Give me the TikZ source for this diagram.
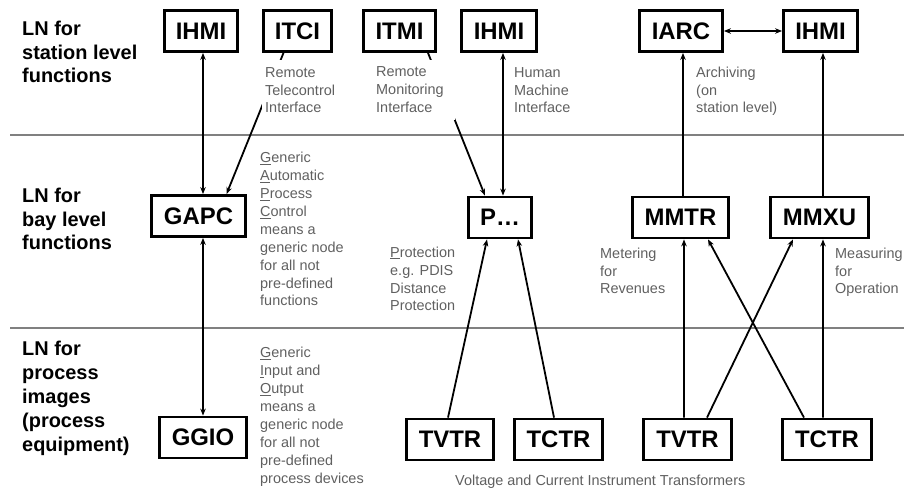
\documentclass[tikz,border=0pt]{standalone}
\usepackage{fontspec}
\setmainfont{Liberation Sans}
\usetikzlibrary{arrows.meta}
\definecolor{labelgray}{RGB}{96,96,96}
\definecolor{rulegray}{RGB}{128,128,128}
\tikzset{
  lnbox/.style={draw, line width=2.8bp, inner sep=0pt, minimum height=41bp,
    font=\fontsize{24}{24}\selectfont\bfseries},
  % multi-line texts are placed by the baseline of their last line
  heading/.style={anchor=base west, align=left, inner sep=0pt,
    font=\fontsize{20}{24}\selectfont\bfseries},
  note/.style={anchor=base west, align=left, inner sep=0pt, text=labelgray,
    font=\fontsize{14.5}{18}\selectfont},
  masked/.style={fill=white, inner xsep=3bp, inner ysep=7bp},
  tip/.tip={Stealth[length=7bp,width=5.5bp]},
  link/.style={line width=1.8bp, -tip},
  duplex/.style={line width=1.8bp, tip-tip},
  divider/.style={draw=rulegray, line width=1.3bp},
}
\begin{document}
\begin{tikzpicture}[x=1bp,y=-1bp]
\useasboundingbox (0,0) rectangle (904,490);

% level separators
\coordinate (d1a) at (10,135);  \coordinate (d1b) at (904,135);
\coordinate (d2a) at (10,328);  \coordinate (d2b) at (904,328);
\draw[divider] (d1a) -- (d1b);
\draw[divider] (d2a) -- (d2b);

% level headings
\node[heading] (hstation) at (22,83) {LN for\\station level\\functions};
\node[heading] (hbay) at (22,250) {LN for\\bay level\\functions};
\node[heading] (hprocess) at (22,451) {LN for\\process\\images\\(process\\equipment)};

% station level nodes
\node[lnbox, minimum width=73bp] (ihmiA) at (201,31) {IHMI};
\node[lnbox, minimum width=68bp] (itci) at (297.5,31) {ITCI};
\node[lnbox, minimum width=72bp] (itmi) at (399.5,31) {ITMI};
\node[lnbox, minimum width=75bp] (ihmiB) at (499,31) {IHMI};
\node[lnbox, minimum width=83bp] (iarc) at (681,31) {IARC};
\node[lnbox, minimum width=74bp] (ihmiC) at (820.5,31) {IHMI};

% bay level nodes
\node[lnbox, minimum width=94bp] (gapc) at (198.5,216) {GAPC};
\node[lnbox, minimum width=63bp] (pdot) at (500,217.5) {P\ldots};
\node[lnbox, minimum width=96bp] (mmtr) at (680.5,217.5) {MMTR};
\node[lnbox, minimum width=98bp] (mmxu) at (819.5,217.5) {MMXU};

% process level nodes
\node[lnbox, minimum width=87bp] (ggio) at (203,437.5) {GGIO};
\node[lnbox, minimum width=87bp] (tvtrA) at (450,439.5) {TVTR};
\node[lnbox, minimum width=88bp] (tctrA) at (558.5,439.5) {TCTR};
\node[lnbox, minimum width=88bp] (tvtrB) at (687.5,439.5) {TVTR};
\node[lnbox, minimum width=89bp] (tctrB) at (827,439.5) {TCTR};

% connectors
\draw[duplex] (ggio.north |- ihmiA.south) -- (ggio.north |- gapc.north);
\draw[duplex] (ggio.north |- gapc.south) -- (ggio.north);
\draw[link] ([xshift=-14bp]itci.south) -- ([xshift=28bp]gapc.north);
\draw[link] ([xshift=28.5bp]itmi.south) -- ([xshift=-15bp]pdot.north);
\draw[duplex] ([xshift=3bp]pdot.north |- ihmiB.south) -- ([xshift=3bp]pdot.north);
\draw[duplex] (iarc.east) -- (ihmiC.west);
\draw[link] ([xshift=2.5bp]mmtr.north) -- ([xshift=2.5bp]mmtr.north |- iarc.south);
\draw[link] ([xshift=3.5bp]mmxu.north) -- ([xshift=3.5bp]mmxu.north |- ihmiC.south);
\draw[link] ([xshift=-2bp]tvtrA.north) -- ([xshift=-13bp]pdot.south);
\draw[link] ([xshift=-4.5bp]tctrA.north) -- ([xshift=18bp]pdot.south);
\draw[link] ([xshift=-3.5bp]tvtrB.north) -- ([xshift=3.5bp]mmtr.south);
\draw[link] ([xshift=-23bp]tctrB.north) -- ([xshift=27.5bp]mmtr.south);
\draw[link] ([xshift=19.5bp]tvtrB.north) -- ([xshift=-26.5bp]mmxu.south);
\draw[link] ([xshift=-4bp]tctrB.north) -- ([xshift=3.5bp]mmxu.south);

% descriptions (the interface labels sit on white over their connectors)
\node[note, masked] (ttci) at (262,113) {Remote\\Telecontrol\\Interface};
% fixed-width text is placed by the baseline of its first line
\node[note, masked, text width=76bp] (ttmi) at (373,77) {Remote\\Monitoring\\Interface};
\node[note] (thmi) at (514,113) {Human\\Machine\\Interface};
\node[note] (tarc) at (696,113) {Archiving\\(on\\station level)};
\node[note] (tgapc) at (260,306) {\underline{G}eneric\\\underline{A}utomatic\\\underline{P}rocess\\\underline{C}ontrol\\means a\\generic node\\for all not\\pre-defined\\functions};
\node[note] (tprot) at (390,311) {\underline{P}rotection\\e.g. PDIS\\Distance\\Protection};
\node[note] (tmmtr) at (600,294) {Metering\\for\\Revenues};
\node[note] (tmmxu) at (835,294) {Measuring\\for\\Operation};
\node[note] (tggio) at (260,483) {\underline{G}eneric\\\underline{I}nput and\\\underline{O}utput\\means a\\generic node\\for all not\\pre-defined\\process devices};
\node[note] (ttrans) at (455,485) {Voltage and Current Instrument Transformers};
\end{tikzpicture}
\end{document}
